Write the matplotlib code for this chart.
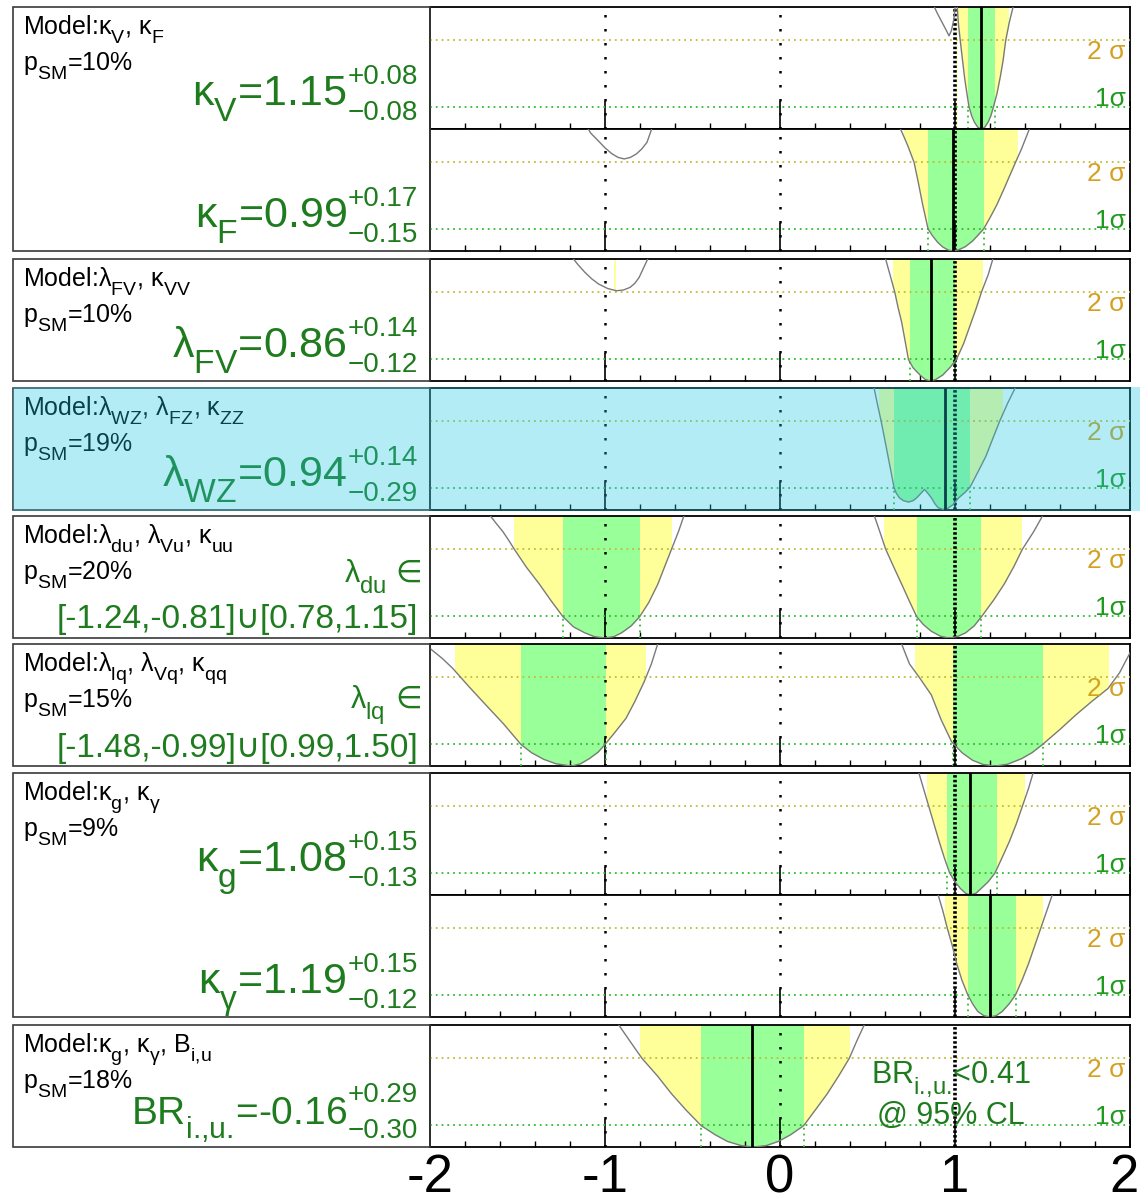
import matplotlib
matplotlib.use('Agg')
import matplotlib.pyplot as plt
import matplotlib._mathtext as mtext
from matplotlib.patches import Rectangle
import numpy as np

plt.rcParams['font.family'] = ['Liberation Sans', 'DejaVu Sans']
plt.rcParams['mathtext.fontset'] = 'custom'
plt.rcParams['mathtext.rm'] = 'Liberation Sans'
plt.rcParams['mathtext.it'] = 'Liberation Sans'
plt.rcParams['mathtext.default'] = 'regular'
plt.rcParams['axes.unicode_minus'] = False
# bigger and lower subscripts, closer to the ROOT look
mtext.FontConstantsBase.sub1 = 0.7
mtext.SHRINK_FACTOR = 0.78

# delta chi2 scans, one sub-list per branch of the curve
kv_x = [[0.87, 0.90, 0.93, 0.95, 0.966, 0.98, 0.995, 1.003],
	[1.012, 1.02, 1.03, 1.04, 1.055, 1.07, 1.08, 1.095, 1.11, 1.13, 1.15, 1.17, 1.19, 1.205, 1.22, 1.24, 1.26, 1.275, 1.29, 1.31, 1.335]]
kv_y = [[5.7, 5.2, 4.75, 4.45, 4.2, 4.45, 5.0, 5.7],
	[5.6, 4.7, 4.0, 3.3, 2.3, 1.5, 1.0, 0.6, 0.32, 0.08, 0.0, 0.08, 0.32, 0.6, 1.0, 1.6, 2.4, 3.1, 4.0, 4.8, 5.6]]
kv_best = 1.15
kv_1s = [(1.074, 1.23)]
kv_2s = [(1.01, 1.31)]

kf_x = [[-1.12, -1.08, -1.04, -1.0, -0.96, -0.925, -0.89, -0.855, -0.82, -0.79, -0.76, -0.72],
	[0.67, 0.70, 0.73, 0.766, 0.79, 0.815, 0.846, 0.87, 0.90, 0.93, 0.96, 0.985, 1.02, 1.06, 1.10, 1.13, 1.164,
	1.20, 1.24, 1.28, 1.31, 1.346, 1.38, 1.41, 1.44]]
kf_y = [[5.8, 5.3, 4.98, 4.65, 4.38, 4.22, 4.15, 4.22, 4.38, 4.6, 4.9, 5.8],
	[5.8, 5.3, 4.75, 4.0, 3.1, 2.1, 1.0, 0.7, 0.4, 0.18, 0.05, 0.0, 0.05, 0.2, 0.45, 0.7, 1.0,
	1.5, 2.1, 2.8, 3.35, 4.0, 4.6, 5.2, 5.8]]
kf_best = 0.99
kf_1s = [(0.846, 1.164)]
kf_2s = [(0.708, 1.36)]

lfv_x = [[-1.20, -1.155, -1.115, -1.075, -1.036, -0.985, -0.935, -0.895, -0.857, -0.83, -0.805, -0.75],
	[0.60, 0.63, 0.656, 0.675, 0.695, 0.715, 0.734, 0.76, 0.80, 0.83, 0.86, 0.89, 0.93, 0.97, 1.008, 1.05, 1.086,
	1.12, 1.151, 1.19, 1.22]]
lfv_y = [[5.7, 5.25, 4.9, 4.6, 4.37, 4.17, 4.07, 4.1, 4.22, 4.4, 4.67, 5.6],
	[5.6, 4.75, 4.0, 3.3, 2.66, 1.8, 0.97, 0.6, 0.27, 0.07, 0.0, 0.07, 0.27, 0.6, 0.97, 1.7, 2.5,
	3.25, 4.0, 4.8, 5.6]]
lfv_best = 0.86
lfv_1s = [(0.74, 1.0)]
lfv_2s = [(-0.95, -0.94), (0.643, 1.159)]

lwz_x = [[0.535, 0.556, 0.578, 0.598, 0.617, 0.635, 0.651, 0.665, 0.682, 0.705, 0.734, 0.76, 0.781, 0.805, 0.826,
	0.845, 0.865, 0.885, 0.904, 0.93, 0.956, 0.99, 1.021, 1.055, 1.086, 1.13, 1.177, 1.215, 1.255, 1.30, 1.35]]
lwz_y = [[5.6, 4.8, 4.0, 3.2, 2.43, 1.7, 1.03, 0.75, 0.55, 0.42, 0.36, 0.42, 0.55, 0.75, 0.93,
	0.75, 0.55, 0.28, 0.1, 0.03, 0.06, 0.25, 0.55, 0.78, 1.03, 1.7, 2.43, 3.2, 4.0, 4.8, 5.6]]
lwz_best = 0.943
lwz_1s = [(0.651, 1.086)]
lwz_2s = [(0.565, 1.276)]

ldu_x = [[-1.665, -1.62, -1.583, -1.55, -1.518, -1.45, -1.375, -1.31, -1.24, -1.18, -1.115, -1.06, -1.0, -0.95,
	-0.906, -0.85, -0.802, -0.75, -0.698, -0.66, -0.62, -0.58, -0.545],
	[0.535, 0.57, 0.604, 0.65, 0.695, 0.74, 0.781, 0.82, 0.865, 0.92, 0.969, 1.015, 1.06, 1.11, 1.151, 1.22,
	1.281, 1.335, 1.385, 1.45, 1.507]]
ldu_y = [[5.6, 5.15, 4.79, 4.4, 4.0, 3.2, 2.43, 1.7, 0.96, 0.5, 0.23, 0.06, 0.0, 0.06,
	0.23, 0.55, 0.96, 1.6, 2.43, 3.2, 4.0, 4.8, 5.6],
	[5.6, 4.8, 4.0, 3.2, 2.43, 1.65, 0.96, 0.6, 0.3, 0.07, 0.0, 0.07, 0.23, 0.55, 0.96, 1.7,
	2.43, 3.2, 4.0, 4.8, 5.6]]
ldu_best = None
ldu_1s = [(-1.24, -0.802), (0.781, 1.151)]
ldu_2s = [(-1.518, -0.617), (0.596, 1.385)]

llq_x = [[-2.0, -1.93, -1.87, -1.78, -1.69, -1.58, -1.48, -1.42, -1.35, -1.28, -1.22, -1.19, -1.14, -1.09, -1.04,
	-1.0, -0.94, -0.88, -0.83, -0.776, -0.735, -0.695],
	[0.69, 0.74, 0.80, 0.865, 0.92, 0.98, 1.04, 1.1, 1.16, 1.23, 1.30, 1.38, 1.44, 1.5, 1.6, 1.69, 1.78, 1.875,
	1.94, 2.0]]
llq_y = [[5.3, 4.85, 4.4, 3.6, 2.83, 1.9, 0.97, 0.6, 0.3, 0.1, 0.03, 0.0, 0.1, 0.33, 0.62,
	0.97, 1.55, 2.15, 2.9, 3.8, 4.6, 5.6],
	[5.6, 4.6, 3.95, 3.2, 2.1, 1.1, 0.6, 0.26, 0.07, 0.0, 0.08, 0.33, 0.6, 0.97, 1.65, 2.3, 2.9, 3.5,
	4.2, 5.1]]
llq_best = None
llq_1s = [(-1.479, -0.997), (0.987, 1.503)]
llq_2s = [(-1.857, -0.763), (0.773, 1.88)]

kg_x = [[0.79, 0.82, 0.85, 0.88, 0.91, 0.94, 0.969, 1.0, 1.03, 1.06, 1.086, 1.12, 1.15, 1.19, 1.229, 1.27, 1.31,
	1.35, 1.385, 1.42, 1.45]]
kg_y = [[5.6, 4.8, 4.0, 3.2, 2.4, 1.65, 1.0, 0.6, 0.3, 0.08, 0.0, 0.08, 0.3, 0.6, 1.0, 1.7, 2.4,
	3.2, 4.0, 4.8, 5.6]]
kg_best = 1.086
kg_1s = [(0.956, 1.242)]
kg_2s = [(0.839, 1.398)]

kgam_x = [[0.90, 0.93, 0.956, 0.985, 1.01, 1.04, 1.073, 1.10, 1.13, 1.165, 1.198, 1.235, 1.27, 1.31, 1.346, 1.385,
	1.42, 1.455, 1.49, 1.525, 1.56]]
kgam_y = [[5.6, 4.8, 4.0, 3.2, 2.4, 1.65, 1.0, 0.6, 0.25, 0.06, 0.0, 0.06, 0.25, 0.6, 1.0, 1.7,
	2.4, 3.2, 4.0, 4.8, 5.6]]
kgam_best = 1.198
kgam_1s = [(1.073, 1.346)]
kgam_2s = [(0.943, 1.503)]

br_x = [[-0.93, -0.86, -0.789, -0.70, -0.62, -0.535, -0.45, -0.37, -0.30, -0.22, -0.151, -0.08, -0.01, 0.06,
	0.135, 0.20, 0.27, 0.335, 0.396, 0.44, 0.487]]
br_y = [[5.6, 4.8, 4.0, 3.2, 2.4, 1.65, 0.96, 0.55, 0.25, 0.06, 0.0, 0.06, 0.25, 0.55,
	0.96, 1.65, 2.4, 3.2, 4.0, 4.8, 5.6]]
br_best = -0.159
br_1s = [(-0.45, 0.135)]
br_2s = [(-0.802, 0.401)]

tick_vals = [-2, -1, 0, 1, 2]
tick_text = ['-2', '-1', '0', '1', '2']

# left boxes: model, p_SM
models = [r'Model:$κ_{V}$, $κ_{F}$', r'Model:$λ_{FV}$, $κ_{VV}$', r'Model:$λ_{WZ}$, $λ_{FZ}$, $κ_{ZZ}$',
	r'Model:$λ_{du}$, $λ_{Vu}$, $κ_{uu}$', r'Model:$λ_{lq}$, $λ_{Vq}$, $κ_{qq}$', r'Model:$κ_{g}$, $κ_{γ}$',
	r'Model:$κ_{g}$, $κ_{γ}$, B$_{\text{i,u}}$']
psm = ['10%', '10%', '19%', '20%', '15%', '9%', '18%']

# fitted values: (name=central, up, down, size) per scan panel
results = [(r'$κ_{V}$=1.15', '+0.08', '\u22120.08', 31), (r'$κ_{F}$=0.99', '+0.17', '\u22120.15', 31),
	(r'$λ_{FV}$=0.86', '+0.14', '\u22120.12', 31), (r'$λ_{WZ}$=0.94', '+0.14', '\u22120.29', 31),
	None, None,
	(r'$κ_{g}$=1.08', '+0.15', '\u22120.13', 31), (r'$κ_{γ}$=1.19', '+0.15', '\u22120.12', 31),
	(r'BR$_{\text{i.,u.}}$=-0.16', '+0.29', '\u22120.30', 28)]

YEL = '#ffff99'
GRN = '#99ff99'
TXTGRN = '#1e7b1e'

W, H = 1140, 1204
fig = plt.figure(figsize=(W / 100.0, H / 100.0), dpi=100)

# pixel rows of the scan panels and of the text boxes
panel_rows = [(7, 129), (129, 251), (259, 381), (388, 510), (516, 638), (644, 766), (773, 895), (895, 1017), (1025, 1147)]
box_rows = [(7, 251), (259, 381), (388, 510), (516, 638), (644, 766), (773, 1017), (1025, 1147)]

scans = [(kv_x, kv_y, kv_best, kv_1s, kv_2s), (kf_x, kf_y, kf_best, kf_1s, kf_2s),
	(lfv_x, lfv_y, lfv_best, lfv_1s, lfv_2s), (lwz_x, lwz_y, lwz_best, lwz_1s, lwz_2s),
	(ldu_x, ldu_y, ldu_best, ldu_1s, ldu_2s), (llq_x, llq_y, llq_best, llq_1s, llq_2s),
	(kg_x, kg_y, kg_best, kg_1s, kg_2s), (kgam_x, kgam_y, kgam_best, kgam_1s, kgam_2s),
	(br_x, br_y, br_best, br_1s, br_2s)]


def panel(ax, cx, cy, best, s1, s2, bottom=False):
	ax.set_xlim(-2, 2)
	ax.set_ylim(0, 5.5)
	ax.set_axisbelow(False)
	for lo, hi in s2:
		ax.axvspan(lo, hi, color=YEL, lw=0, zorder=1)
	for lo, hi in s1:
		ax.axvspan(lo, hi, color=GRN, lw=0, zorder=1)
	for sx, sy in zip(cx, cy):
		ax.fill_between(sx, 0, sy, color='white', lw=0, zorder=2)
	ax.axhline(4, color='#bdbd3a', lw=1.3, ls=(0, (1, 2.2)), zorder=3)
	ax.axhline(1, color='#33bb33', lw=1.3, ls=(0, (1, 2.2)), zorder=3)
	for lo, hi in s1:
		ax.plot([lo, lo], [0, 1], color='#33bb33', lw=1.3, ls=(0, (1, 2.2)), zorder=3)
		ax.plot([hi, hi], [0, 1], color='#33bb33', lw=1.3, ls=(0, (1, 2.2)), zorder=3)
	ax.axvline(-1, color='k', lw=1.8, ls=(0, (1, 4.6)), zorder=4)
	ax.axvline(0, color='k', lw=1.8, ls=(0, (1, 4.6)), zorder=4)
	ax.axvline(1, color='k', lw=2.6, ls=(0, (0.7, 0.6)), zorder=4)
	for sx, sy in zip(cx, cy):
		ax.plot(sx, sy, color='#7a7a7a', lw=1.0, zorder=5)
	if best is not None:
		ax.axvline(best, color='k', lw=2.0, zorder=6)
	ax.text(1.975, 3.45, '2 σ', color='#d4a020', fontsize=19, ha='right', va='center', zorder=7)
	ax.text(1.975, 1.35, '1σ', color='#1f9a1f', fontsize=19, ha='right', va='center', zorder=7)
	ax.set_yticks([])
	ax.set_xticks(tick_vals)
	ax.set_xticks(np.arange(-2, 2.01, 0.2), minor=True)
	ax.tick_params(axis='x', which='major', direction='in', length=20, width=1.2, top=False, labelbottom=False)
	ax.tick_params(axis='x', which='minor', direction='in', length=4, width=1.0, top=False)
	if bottom:
		tr = ax.get_xaxis_transform()
		for v, s in zip(tick_vals, tick_text):
			xv = v
			ha = 'center'
			if v == tick_vals[-1]:
				xv, ha = v + 0.05, 'right'
			ax.text(xv, -0.369, s, fontsize=38, ha=ha, va='baseline', transform=tr, clip_on=False)
	for s in ax.spines.values():
		s.set_linewidth(1.3)
#

axes = []
for i, (t, b) in enumerate(panel_rows):
	ax = fig.add_axes([430.0 / W, 1 - b / float(H), 700.0 / W, (b - t) / float(H)])
	cx, cy, best, s1, s2 = scans[i]
	panel(ax, cx, cy, best, s1, s2, bottom=(i == len(panel_rows) - 1))
	axes.append(ax)

# text in the BR panel
axes[-1].text(0.977, 2.87, r'BR$_{\text{i.,u.}}$<0.41', color=TXTGRN, fontsize=22, ha='center', va='baseline', zorder=7)
axes[-1].text(0.977, 1.05, '@ 95% CL', color=TXTGRN, fontsize=22, ha='center', va='baseline', zorder=7)

# overlay in pixel coordinates for boxes and labels
ov = fig.add_axes([0, 0, 1, 1])
ov.set_xlim(0, W)
ov.set_ylim(H, 0)
ov.axis('off')
ov.patch.set_alpha(0)
ov.set_zorder(10)

for i, (t, b) in enumerate(box_rows):
	ov.add_patch(Rectangle((13, t), 417, b - t, fill=False, ec='#3a3a3a', lw=1.2, zorder=2))
	ov.text(23, t + 27, models[i], fontsize=18, ha='left', va='baseline', zorder=3)
	ov.text(23, t + 63, r'p$_{SM}$=' + psm[i], fontsize=18, ha='left', va='baseline', zorder=3)

for i, (t, b) in enumerate(panel_rows):
	r = results[i]
	if r is None:
		continue
	ov.text(347, t + 99, r[0], fontsize=r[3], color=TXTGRN, ha='right', va='baseline', zorder=3)
	ov.text(418, t + 77, r[1], fontsize=20, color=TXTGRN, ha='right', va='baseline', zorder=3)
	ov.text(418, t + 113, r[2], fontsize=20, color=TXTGRN, ha='right', va='baseline', zorder=3)

# interval results
ov.text(387, 582, r'$λ_{du}$', fontsize=22, color=TXTGRN, ha='right', va='baseline', zorder=3)
ov.text(422, 582, '∈', fontsize=22, color=TXTGRN, ha='right', va='baseline', zorder=3)
ov.text(418, 628, '[-1.24,-0.81]∪[0.78,1.15]', fontsize=24, color=TXTGRN, ha='right', va='baseline', zorder=3)
ov.text(385, 708, r'$λ_{lq}$', fontsize=22, color=TXTGRN, ha='right', va='baseline', zorder=3)
ov.text(422, 708, '∈', fontsize=22, color=TXTGRN, ha='right', va='baseline', zorder=3)
ov.text(418, 757, '[-1.48,-0.99]∪[0.99,1.50]', fontsize=24, color=TXTGRN, ha='right', va='baseline', zorder=3)

# highlighted row
ov.add_patch(Rectangle((13, 387), W - 13, 124, color=(30 / 255.0, 198 / 255.0, 228 / 255.0), alpha=0.33, lw=0, zorder=10))

fig.savefig('out.png', dpi=100)
